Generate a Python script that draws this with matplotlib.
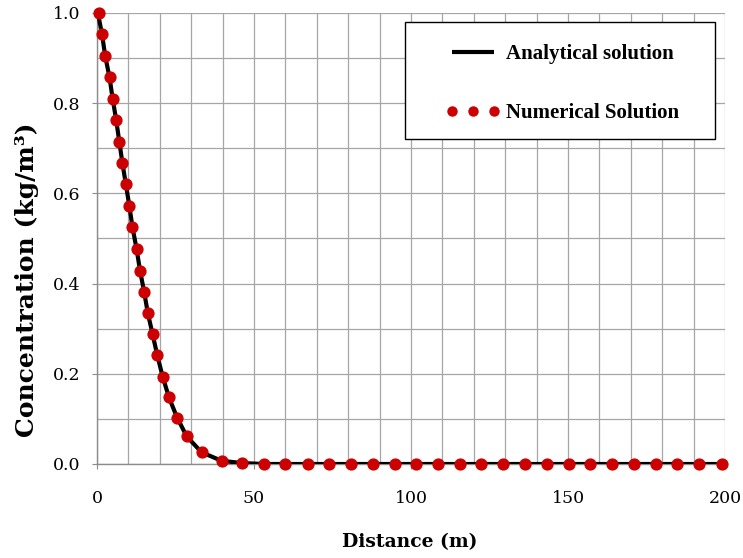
import matplotlib
matplotlib.use("Agg")
import matplotlib.pyplot as plt
from matplotlib.ticker import MultipleLocator, FormatStrFormatter
from matplotlib.patches import Rectangle

# Data
distance = [0.5, 1.6, 2.6, 4.0, 5.0, 6.1, 7.1, 8.1, 9.2, 10.3, 11.3, 12.6, 13.7,
            15.0, 16.2, 17.7, 19.2, 20.9, 22.9, 25.5, 28.6, 33.3, 39.7, 46.3, 53.2,
            59.9, 67.1, 74.0, 80.8, 87.8, 94.8, 101.6, 108.6, 115.6, 122.4, 129.4,
            136.3, 143.2, 150.2, 157.0, 164.0, 171.0, 178.0, 184.8, 191.8, 198.9]
numerical = [1.0, 0.953, 0.905, 0.857, 0.809, 0.763, 0.715, 0.667, 0.620, 0.572,
             0.525, 0.477, 0.429, 0.382, 0.334, 0.288, 0.241, 0.194, 0.148, 0.103,
             0.061, 0.026, 0.007, 0.002, 0.0,
             0.0, 0.0, 0.0, 0.0, 0.0, 0.0, 0.0, 0.0, 0.0, 0.0, 0.0,
             0.0, 0.0, 0.0, 0.0, 0.0, 0.0, 0.0, 0.0, 0.0, 0.0]
analytical_x = [0.0, 1.6, 2.6, 4.0, 5.0, 6.1, 7.1, 8.1, 9.2, 10.3, 11.3, 12.6, 13.7,
                15.0, 16.2, 17.7, 19.2, 20.9, 22.9, 25.5, 28.6, 33.3, 39.7, 46.3, 53.2, 200.0]
analytical_y = [1.01, 0.953, 0.905, 0.857, 0.809, 0.763, 0.715, 0.667, 0.620, 0.572,
                0.525, 0.477, 0.429, 0.382, 0.334, 0.288, 0.241, 0.194, 0.148, 0.103,
                0.061, 0.026, 0.007, 0.002, 0.0, 0.0]

plt.rcParams['font.family'] = ['Liberation Serif', 'DejaVu Serif']

W, H = 743, 558
fig = plt.figure(figsize=(W/100, H/100), dpi=100)
ax = fig.add_axes([97/W, 1-464/H, 628/W, 451/H])

grid_c = '#a6a6a6'
ax.plot(analytical_x, analytical_y, color='black', lw=3.0, solid_capstyle='butt',
        label='Analytical solution', zorder=3)
ax.plot(distance, numerical, linestyle='none', marker='o', ms=7.8,
        color='#cc0000', mec='#cc0000', label='Numerical Solution', zorder=4,
        clip_on=False)

ax.set_xlim(0, 200)
ax.set_ylim(0, 1.0)
ax.xaxis.set_major_locator(MultipleLocator(50))
ax.xaxis.set_minor_locator(MultipleLocator(10))
ax.yaxis.set_major_locator(MultipleLocator(0.2))
ax.yaxis.set_minor_locator(MultipleLocator(0.1))
ax.yaxis.set_major_formatter(FormatStrFormatter('%.1f'))
ax.grid(True, which='both', color=grid_c, lw=0.9)
ax.set_axisbelow(True)

for s in ['top', 'right']:
    ax.spines[s].set_visible(False)
for s in ['left', 'bottom']:
    ax.spines[s].set_color('#8c8c8c')
    ax.spines[s].set_linewidth(1.0)

ax.tick_params(which='major', length=3.8, color='#8c8c8c')
ax.tick_params(which='minor', length=0)
ax.tick_params(axis='y', pad=8)
ax.tick_params(axis='x', pad=15)
for lab in ax.get_xticklabels() + ax.get_yticklabels():
    lab.set_family('DejaVu Serif')
    lab.set_fontsize(12.5)

fig.text(410/W, 1-542/H, 'Distance (m)', fontsize=13.5, fontweight='bold',
         family='DejaVu Serif', ha='center', va='center')
fig.text(27/W, 1-280/H, 'Concentration (kg/m\u00b3)', fontsize=18, fontweight='bold',
         family='DejaVu Serif', ha='center', va='center', rotation=90)

# legend box
ax.add_patch(Rectangle(((405-97)/628, (464-139)/451), (715-405)/628, (139-22)/451,
                       transform=ax.transAxes, facecolor='white', edgecolor='black',
                       lw=1.0, zorder=5, clip_on=False))
leg = ax.legend(loc='upper left', bbox_to_anchor=((446-97)/628, (464-44)/451),
                fontsize=15, numpoints=3, handlelength=2.6, labelspacing=1.88,
                borderpad=0, handletextpad=0.3, frameon=False, borderaxespad=0)
leg.set_zorder(6)
for t in leg.get_texts():
    t.set_fontweight('bold')
leg.legend_handles[1].set_markersize(6.5)

fig.savefig('out.png', dpi=100)
